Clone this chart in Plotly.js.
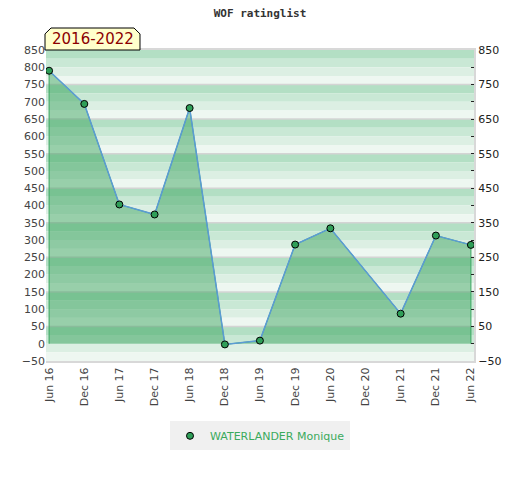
<!DOCTYPE html>
<html>
<head>
<meta charset="utf-8">
<script src="https://cdn.plot.ly/plotly-3.0.1.min.js"></script>
<style>html,body{margin:0;padding:0;background:#fff;}#chart{width:520px;height:480px;}</style>
</head>
<body>
<div id="chart"></div>
<script>
// ---- data ----
const dates = ["2016-06-01","2016-12-01","2017-06-01","2017-12-01","2018-06-01","2018-12-01",
               "2019-06-01","2019-12-01","2020-06-01","2021-06-01","2021-12-01","2022-06-01"];
const ratings = [790, 694, 403, 374, 682, -2, 9, 287, 334, 87, 313, 286];
const seriesName = "WATERLANDER Monique";
const chartTitle = "WOF ratinglist";
const periodLabel = "2016-2022";
const yMin = -50, yMax = 850;

// ---- background bands ----
const bandColors = ["#b3dfc4", "#c9e8d5", "#dcefe3", "#eef7f1"];
const shapes = [];
let i = 0;
for (let top = yMax; top > yMin; top -= 25, i++) {
  shapes.push({type:"rect", xref:"paper", yref:"y", x0:0, x1:1, y0:top-25, y1:top,
    fillcolor:bandColors[i % 4], line:{width:0}, layer:"below"});
}
// faint grid lines every 100
for (let g = yMax - 100; g > yMin; g -= 100) {
  shapes.push({type:"line", xref:"paper", yref:"y", x0:0, x1:1, y0:g, y1:g,
    line:{color:"#d4d4d4", width:1.5}, layer:"below"});
}
// label box with chamfered top corners (paper coords)
const bx0 = -0.0023, bx1 = 0.2196, by0 = 1.0, by1 = 1.0707, cx = 0.014, cy = 0.019;
shapes.push({type:"path", xref:"paper", yref:"paper", layer:"above",
  path:`M ${bx0},${by0} L ${bx0},${by1-cy} L ${bx0+cx},${by1} L ${bx1-cx},${by1} L ${bx1},${by1-cy} L ${bx1},${by0} Z`,
  fillcolor:"#ffffcc", line:{color:"#000", width:1}});

const fillX = [dates[0]].concat(dates, [dates[dates.length-1]]);
const fillY = [0].concat(ratings, [0]);

const traces = [
  {x: fillX, y: fillY, type:"scatter", mode:"lines", fill:"toself",
   fillcolor:"rgba(50,160,88,0.46)", line:{color:"#3aa860", width:1},
   showlegend:false, hoverinfo:"skip"},
  {x: dates, y: ratings, type:"scatter", mode:"lines",
   line:{color:"#5b9bd5", width:1.5}, showlegend:false, yaxis:"y2"},
  {x: dates, y: ratings, type:"scatter", mode:"markers", name: seriesName, yaxis:"y2",
   marker:{size:7, color:"#2f9e58", line:{color:"#000", width:1}}}
];

const tickFont = {family:"DejaVu Sans, Verdana, sans-serif", size:11, color:"#444"};

const layout = {
  width:520, height:480,
  margin:{l:46, r:46, t:50, b:119},
  paper_bgcolor:"#fff", plot_bgcolor:"#fff",
  title:{text: chartTitle, x:0.5, xanchor:"center", yref:"container", y:0.973, yanchor:"middle",
         font:{family:"DejaVu Sans Mono, monospace", size:11, color:"#333", weight:"bold"}},
  xaxis:{type:"date", range:["2016-05-16","2022-06-17"], tick0:"2016-06-01", dtick:"M6",
         tickformat:"%b %y", tickangle:-90, tickfont:tickFont, showgrid:false, zeroline:false,
         showline:true, linecolor:"#d8d8d8", linewidth:2, mirror:true, ticks:""},
  yaxis:{range:[yMin, yMax], tick0:-50, dtick:50, tickfont:tickFont, showgrid:false,
         zeroline:false, showline:false, ticks:""},
  yaxis2:{range:[yMin, yMax], overlaying:"y", side:"right", tick0:-50, dtick:100,
          tickfont:{family:"DejaVu Sans, Verdana, sans-serif", size:11, color:"#222"},
          showgrid:false, zeroline:false,
          showline:true, linecolor:"#d8d8d8", linewidth:2,
          ticks:"inside", ticklen:3, tickcolor:"#222",
          minor:{dtick:50, tick0:0, ticks:"inside", ticklen:3, tickcolor:"#222", showgrid:false}},
  shapes: shapes,
  showlegend:true,
  legend:{orientation:"h", x:0.5, xanchor:"center", yref:"container", y:0.092, yanchor:"middle",
          bgcolor:"#f0f0f0", itemwidth:30,
          font:{family:"DejaVu Sans, Verdana, sans-serif", size:11, color:"#3aaa5c"}},
  annotations:[{text: periodLabel, xref:"paper", yref:"paper", x:0.1087, xanchor:"center", y:1.0354, yanchor:"middle",
    showarrow:false,
    font:{family:"DejaVu Sans, Verdana, sans-serif", size:15, color:"#8b0000"}}]
};

Plotly.newPlot("chart", traces, layout, {staticPlot:true});
</script>
</body>
</html>
